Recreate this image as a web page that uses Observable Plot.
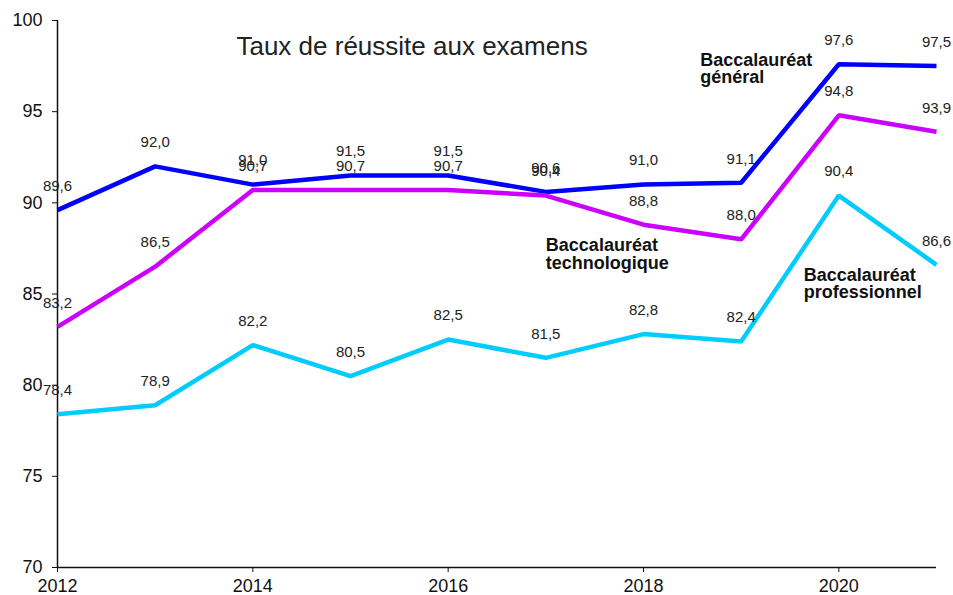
<!DOCTYPE html>
<html>
<head>
<meta charset="utf-8">
<script src="https://cdn.jsdelivr.net/npm/d3@7"></script>
<script src="https://cdn.jsdelivr.net/npm/@observablehq/plot@0.6"></script>
<style>
  html, body { margin: 0; padding: 0; background: #fff; }
  #chart svg { display: block; }
</style>
</head>
<body>
<div id="chart"></div>
<script>
// ---- Data ----
const years = [2012, 2013, 2014, 2015, 2016, 2017, 2018, 2019, 2020, 2021];
const general = [89.6, 92.0, 91.0, 91.5, 91.5, 90.6, 91.0, 91.1, 97.6, 97.5];
const techno  = [83.2, 86.5, 90.7, 90.7, 90.7, 90.4, 88.8, 88.0, 94.8, 93.9];
const pro     = [78.4, 78.9, 82.2, 80.5, 82.5, 81.5, 82.8, 82.4, 90.4, 86.6];
const seriesNames = ["Baccalauréat général", "Baccalauréat technologique", "Baccalauréat professionnel"];
const seriesLabels = ["Baccalauréat\ngénéral", "Baccalauréat\ntechnologique", "Baccalauréat\nprofessionnel"];
const seriesColors = ["#0000ff", "#cc00ff", "#00ccff"];
const yTicks = [70, 75, 80, 85, 90, 95, 100];
const xTicks = [2012, 2014, 2016, 2018, 2020];
const title = "Taux de réussite aux examens";

// annotation anchors (in data units)
const labelYear = [2018.58, 2017.0, 2019.64];
const labelValue = [97.34, 87.17, 85.55];
const titleYear = 2015.63;
const titleValue = 98.57;

// ---- Build table ----
const allValues = [general, techno, pro];
const rows = [];
allValues.forEach((vals, i) => {
  vals.forEach((v, j) => rows.push({series: seriesNames[i], year: years[j], value: v}));
});
const annotations = seriesLabels.map((t, i) => ({text: t, year: labelYear[i], value: labelValue[i]}));
const fmt = v => v.toFixed(1).replace(".", ",");
const font = "'Liberation Sans', Arial, Helvetica, sans-serif";

const chart = Plot.plot({
  width: 953,
  height: 595,
  marginLeft: 57,
  marginRight: 17,
  marginTop: 20,
  marginBottom: 28,
  style: {fontFamily: font, fontSize: "18px", color: "#111", background: "#fff"},
  x: {domain: [2012, 2021], ticks: xTicks, tickFormat: "d"},
  y: {domain: [70, 100], ticks: yTicks},
  color: {domain: seriesNames, range: seriesColors},
  marks: [
    Plot.axisY({ticks: yTicks, tickSize: 5, tickPadding: 10, fontSize: 18, label: null, stroke: "#111"}),
    Plot.axisX({ticks: xTicks, tickSize: 5, tickPadding: 7, fontSize: 18, tickFormat: "d", label: null, stroke: "#111"}),
    Plot.ruleX([2012], {stroke: "#111", strokeWidth: 1.5}),
    Plot.ruleY([70], {stroke: "#111", strokeWidth: 1.5}),
    Plot.line(rows, {x: "year", y: "value", z: "series", stroke: "series", strokeWidth: 4.5, strokeLinejoin: "miter", strokeLinecap: "butt"}),
    Plot.text(rows, {x: "year", y: "value", text: d => fmt(d.value), dy: -24, fontSize: 15, fill: "#222"}),
    Plot.text(annotations, {x: "year", y: "value", text: "text", textAnchor: "start", fontSize: 18, fontWeight: "bold", lineHeight: 0.97, fill: "#111"}),
    Plot.text([title], {x: () => titleYear, y: () => titleValue, text: d => d, fontSize: 26, fill: "#222"})
  ]
});
document.getElementById("chart").appendChild(chart);
</script>
</body>
</html>
